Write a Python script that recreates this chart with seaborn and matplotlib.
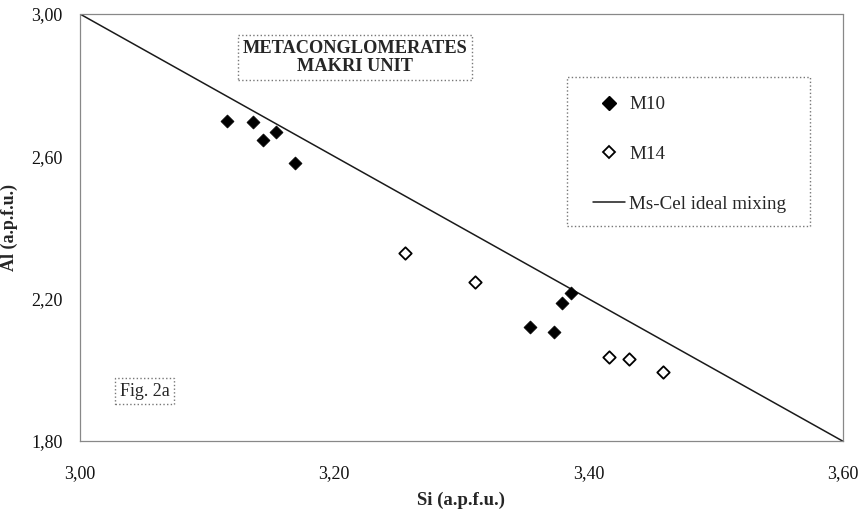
import matplotlib
matplotlib.use("Agg")
import matplotlib.pyplot as plt
from matplotlib.lines import Line2D
from matplotlib.patches import Rectangle
import seaborn as sns
import pandas as pd

# ---- data ----
m10_si = [3.116, 3.136, 3.144, 3.154, 3.169, 3.386, 3.379, 3.354, 3.373]
m10_al = [2.700, 2.696, 2.646, 2.669, 2.582, 2.215, 2.187, 2.121, 2.105]
m14_si = [3.256, 3.311, 3.416, 3.432, 3.459]
m14_al = [2.329, 2.248, 2.037, 2.030, 1.995]
ideal_si = [3.00, 3.60]
ideal_al = [3.00, 1.80]
xtick_vals = [3.00, 3.20, 3.40, 3.60]
xtick_labels = ["3,00", "3,20", "3,40", "3,60"]
ytick_vals = [1.80, 2.20, 2.60, 3.00]
ytick_labels = ["1,80", "2,20", "2,60", "3,00"]
series_names = ["M10", "M14", "Ms-Cel ideal mixing"]
title_text = "METACONGLOMERATES\nMAKRI UNIT"
fig_label = "Fig. 2a"
x_label = "Si (a.p.f.u.)"
y_label = "Al (a.p.f.u.)"

df = pd.DataFrame({
    "Si": m10_si + m14_si,
    "Al": m10_al + m14_al,
    "sample": ["M10"] * len(m10_si) + ["M14"] * len(m14_si),
})
line_df = pd.DataFrame({"Si": ideal_si, "Al": ideal_al})

sns.set_style("white")
plt.rcParams["font.family"] = ["Liberation Serif", "DejaVu Serif"]

fig = plt.figure(figsize=(8.61, 5.14), dpi=100)
ax = fig.add_axes([80 / 861, 1 - 441 / 514, 762.5 / 861, 427 / 514])

sns.lineplot(data=line_df, x="Si", y="Al", ax=ax, color="#1a1a1a", linewidth=1.1,
             legend=False)
m10 = df[df["sample"] == "M10"]
m14 = df[df["sample"] == "M14"]
sns.scatterplot(data=m10, x="Si", y="Al", ax=ax, marker="D", s=44,
                color="black", edgecolor="black", linewidth=0.5, legend=False, zorder=3)
sns.scatterplot(data=m14, x="Si", y="Al", ax=ax, marker="D", s=40,
                facecolor="white", edgecolor="black", linewidth=1.3, legend=False, zorder=3)

ax.set_xlim(3.00, 3.60)
ax.set_ylim(1.80, 3.00)
ax.set_xticks(xtick_vals)
ax.set_xticklabels(xtick_labels)
ax.set_yticks(ytick_vals)
ax.set_yticklabels(ytick_labels)
ax.tick_params(axis="both", direction="inout", length=7, width=0.8, color="#777777",
               labelsize=13, labelcolor="#111111", pad=14)
ax.tick_params(axis="y", pad=9)
for sp in ax.spines.values():
    sp.set_linestyle((0, (1, 1)))
    sp.set_color("#888888")
    sp.set_linewidth(0.9)

ax.set_xlabel(x_label, fontsize=13.5, fontweight="bold", labelpad=7)
ax.set_ylabel(y_label, fontsize=13, fontweight="bold")
ax.yaxis.set_label_coords((18 - 80) / 762.5, 0.5)

ax.text(0.361, 0.898, title_text, transform=ax.transAxes, ha="center", va="center",
        fontsize=13.2, fontweight="bold", linespacing=1.1,
        bbox=dict(boxstyle="square,pad=0.25", facecolor="white", edgecolor="#777777",
                  linestyle=":", linewidth=1.0))
ax.text(0.085, 0.117, fig_label, transform=ax.transAxes, ha="center", va="center",
        fontsize=13,
        bbox=dict(boxstyle="square,pad=0.25", facecolor="white", edgecolor="#777777",
                  linestyle=":", linewidth=1.0))

# legend frame
ax.add_patch(Rectangle((0.639, 0.5035), 0.319, 0.3495, transform=ax.transAxes,
                       facecolor="white", edgecolor="#777777", linestyle=":",
                       linewidth=1.0, zorder=4))
handles = [
    Line2D([], [], marker="D", linestyle="none", markersize=6.8, markerfacecolor="black",
           markeredgecolor="black"),
    Line2D([], [], marker="D", linestyle="none", markersize=6.2, markerfacecolor="white",
           markeredgecolor="black", markeredgewidth=1.3),
    Line2D([], [], color="#1a1a1a", linewidth=1.1),
]
leg = ax.legend(handles, series_names, loc="upper left",
                bbox_to_anchor=((593 - 80) / 762.5, (441 - 96) / 427),
                fontsize=13.7, frameon=False, labelspacing=1.7,
                borderpad=0, handlelength=1.7, handletextpad=0.2, borderaxespad=0)
leg.set_zorder(5)

fig.savefig("out.png", dpi=100)
